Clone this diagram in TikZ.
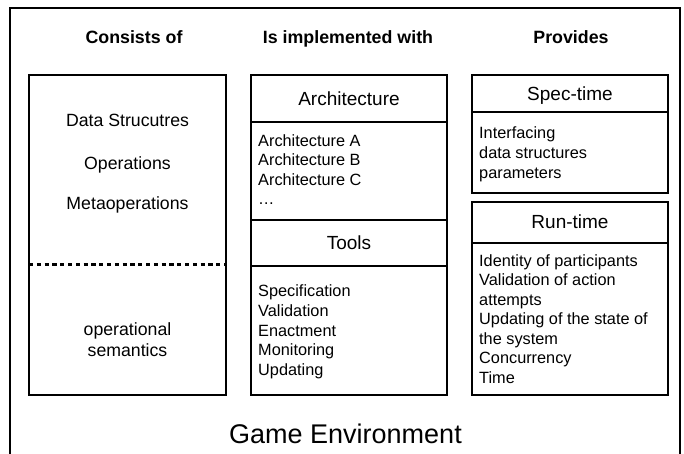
\documentclass[tikz,border=0pt]{standalone}
\usepackage{fontspec}
\setmainfont{Liberation Sans}
\begin{document}
\begin{tikzpicture}[x=1pt,y=-1pt,
  sec/.style={draw, line width=1.2pt, inner sep=0pt, outer sep=0pt, anchor=north west, minimum width=196pt},
  hd/.style={font=\fontsize{17.8}{20}\selectfont\bfseries, anchor=base, inner sep=0pt},
  ttl/.style={font=\fontsize{19}{22}\selectfont, anchor=base, inner sep=0pt},
  lst/.style={font=\fontsize{16.3}{19.6}\selectfont, anchor=base west, inner sep=0pt},
  lft/.style={font=\fontsize{17.7}{21}\selectfont, anchor=base, inner sep=0pt},
  frame/.style={line width=1.3pt},
  dotline/.style={line width=3pt, dash pattern=on 4.2pt off 3.6pt}]
\useasboundingbox (0,0) rectangle (684,453);
% outer frame (open at the bottom)
\coordinate (f1) at (10,455);
\coordinate (f2) at (10,8);
\coordinate (f3) at (680,8);
\coordinate (f4) at (680,455);
\draw[frame] (f1) -- (f2) -- (f3) -- (f4);
% column headers
\node[hd] (h1) at (134,43) {Consists of};
\node[hd] (h2) at (348,43) {Is implemented with};
\node[hd] (h3) at (571,43) {Provides};
% left box
\node[sec, minimum width=197pt, minimum height=320pt] (cbox) at (29,75) {};
\coordinate (d1) at (29,264);
\coordinate (d2) at (226,264);
\draw[dotline] (d1) -- (d2);
\node[lft] (l1) at (127.5,126) {Data Strucutres};
\node[lft] (l2) at (127.5,169) {Operations};
\node[lft] (l3) at (127.5,209) {Metaoperations};
\node[lft] (l4) at (127.5,335) {operational};
\node[lft] (l5) at (127.5,356) {semantics};
% middle column
\node[sec, minimum height=47pt] (archh) at (251,75) {};
\node[sec, minimum height=98pt] (archl) at (251,122) {};
\node[sec, minimum height=46pt] (toolh) at (251,220) {};
\node[sec, minimum height=129pt] (tooll) at (251,266) {};
\node[ttl] (t1) at (349,105) {Architecture};
\node[ttl] (t2) at (349,249) {Tools};
\node[lst] (a1) at (258,146) {Architecture A};
\node[lst] (a2) at (258,165.5) {Architecture B};
\node[lst] (a3) at (258,185) {Architecture C};
\node[lst] (a4) at (258,204) {…};
\node[lst] (b1) at (258,296) {Specification};
\node[lst] (b2) at (258,316) {Validation};
\node[lst] (b3) at (258,336) {Enactment};
\node[lst] (b4) at (258,355) {Monitoring};
\node[lst] (b5) at (258,375) {Updating};
% right column
\node[sec, minimum height=37pt] (spech) at (472,75) {};
\node[sec, minimum height=81pt] (specl) at (472,112) {};
\node[sec, minimum height=41pt] (runh) at (472,202) {};
\node[sec, minimum height=152pt] (runl) at (472,243) {};
\node[ttl] (t3) at (570,100.5) {Spec-time};
\node[ttl] (t4) at (570,228.5) {Run-time};
\node[lst] (c1) at (479,138) {Interfacing};
\node[lst] (c2) at (479,158) {data structures};
\node[lst] (c3) at (479,178) {parameters};
\node[lst] (r1) at (479,266) {Identity of participants};
\node[lst] (r2) at (479,285.5) {Validation of action};
\node[lst] (r3) at (479,305) {attempts};
\node[lst] (r4) at (479,324.5) {Updating of the state of};
\node[lst] (r5) at (479,344) {the system};
\node[lst] (r6) at (479,363.5) {Concurrency};
\node[lst] (r7) at (479,383) {Time};
% title
\node[font=\fontsize{27}{30}\selectfont, anchor=base, inner sep=0pt] (ge) at (345.5,443) {Game Environment};
\end{tikzpicture}
\end{document}
